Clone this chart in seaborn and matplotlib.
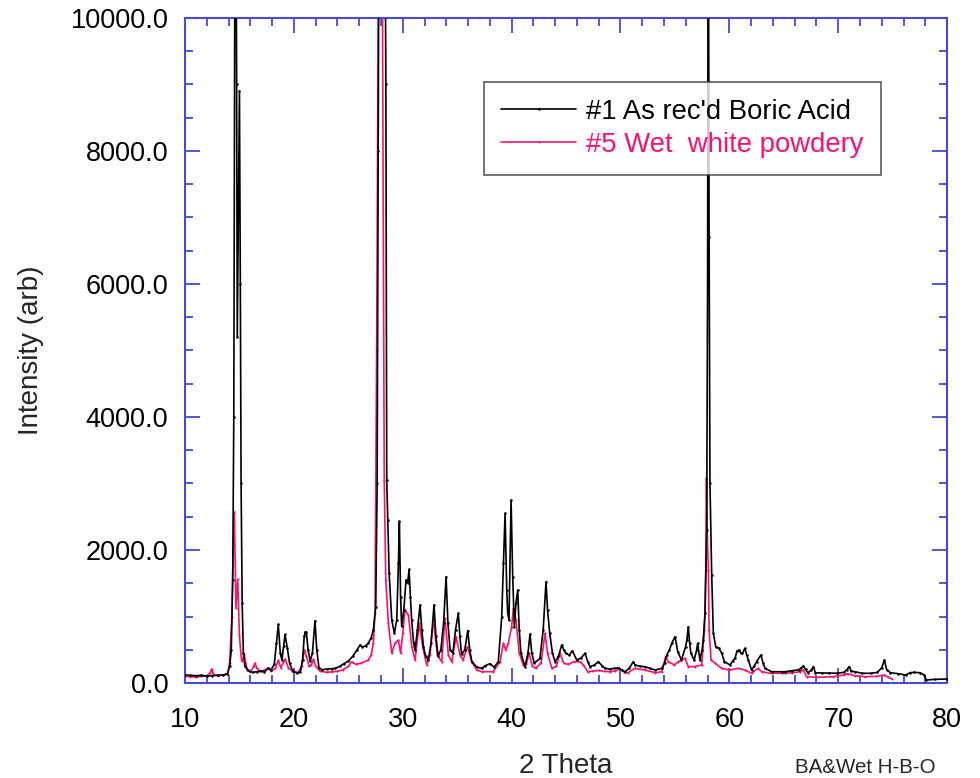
import numpy as np
import pandas as pd
import matplotlib
matplotlib.use("Agg")
import matplotlib.pyplot as plt
import seaborn as sns

# ---- data (2-theta, intensity) ----
ba_theta = [10.0, 10.5, 11.0, 11.5, 12.0, 12.5, 13.0, 13.5, 13.9, 14.1, 14.25, 14.38, 14.48, 14.58, 14.66,
            14.74, 14.8, 14.9, 15.0, 15.08, 15.15, 15.25, 15.36, 15.5, 15.8, 16.2, 16.6, 17.0, 17.3, 17.65,
            17.9, 18.2, 18.4, 18.57, 18.75, 18.9, 19.05, 19.19, 19.4, 19.6, 19.9, 20.3, 20.6, 20.8, 20.95,
            21.05, 21.15, 21.3, 21.5, 21.7, 21.94, 22.1, 22.3, 22.6, 23.0, 23.5, 23.8, 24.2, 24.6, 25.0,
            25.4, 25.8, 26.08, 26.3, 26.6, 26.84, 27.1, 27.3, 27.52, 27.65, 27.75, 27.85, 28.0, 28.15, 28.3,
            28.45, 28.53, 28.62, 28.75, 28.99, 29.23, 29.45, 29.6, 29.69, 29.8, 29.9, 30.1, 30.3, 30.45,
            30.58, 30.7, 30.82, 31.0, 31.13, 31.35, 31.59, 31.75, 31.9, 32.1, 32.35, 32.6, 32.87, 33.05,
            33.25, 33.5, 33.75, 33.98, 34.15, 34.35, 34.6, 34.85, 35.1, 35.25, 35.4, 35.7, 35.97, 36.15,
            36.35, 36.8, 37.26, 37.56, 38.0, 38.4, 38.78, 39.09, 39.25, 39.4, 39.55, 39.64, 39.76, 39.95,
            40.1, 40.25, 40.4, 40.56, 40.7, 40.86, 41.23, 41.5, 41.69, 41.85, 42.08, 42.6, 42.9, 43.16,
            43.3, 43.5, 43.75, 43.99, 44.3, 44.6, 44.8, 44.97, 45.3, 45.58, 45.98, 46.4, 46.74, 47.0,
            47.2, 47.6, 47.97, 48.3, 48.58, 49.0, 49.4, 49.8, 50.1, 50.4, 50.8, 51.18, 51.34, 51.8,
            52.26, 52.7, 53.18, 53.8, 54.05, 54.25, 54.5, 54.71, 55.01, 55.26, 55.6, 55.98, 56.1, 56.23,
            56.35, 56.47, 56.77, 57.0, 57.09, 57.3, 57.5, 57.6, 57.77, 57.92, 58.0, 58.07, 58.14, 58.22,
            58.38, 58.53, 58.75, 59.05, 59.3, 59.55, 60.07, 60.3, 60.52, 60.7, 60.89, 61.05, 61.2, 61.43,
            61.6, 61.74, 62.04, 62.3, 62.5, 62.9, 63.1, 63.27, 63.88, 64.8, 65.12, 65.8, 66.4, 66.6,
            66.8, 67.0, 67.2, 67.5, 67.72, 67.9, 68.5, 69.2, 69.92, 70.5, 70.8, 71.0, 71.2, 71.5,
            72.2, 73.0, 73.6, 74.0, 74.24, 74.45, 74.8, 75.5, 76.2, 76.6, 77.0, 77.5, 77.9, 78.1,
            78.9, 80.0]
ba_int = [120, 115, 110, 115, 105, 110, 115, 120, 140, 250, 500, 1550, 4000, 11000, 13000,
          9000, 5200, 7000, 8900, 6000, 3000, 1200, 450, 250, 190, 160, 170, 180, 170, 220,
          200, 280, 600, 880, 450, 346, 550, 730, 520, 300, 180, 150, 170, 350, 700,
          770, 760, 500, 330, 450, 937, 500, 230, 200, 210, 215, 220, 250, 290, 330,
          400, 500, 570, 540, 560, 600, 680, 800, 1150, 3000, 8000, 14000, 17000, 17500, 14000,
          9000, 3050, 2450, 1650, 947, 747, 950, 1800, 2430, 1300, 850, 1100, 1550, 1500,
          1710, 1300, 947, 600, 496, 800, 1173, 800, 546, 400, 346, 600, 1173, 700,
          400, 500, 900, 1600, 900, 500, 450, 800, 1048, 700, 430, 500, 788, 500,
          320, 240, 220, 260, 290, 240, 321, 997, 1800, 2552, 1400, 1048, 947, 2752,
          1600, 847, 1200, 1399, 800, 446, 246, 450, 737, 450, 296, 371, 800, 1524,
          1100, 747, 450, 321, 400, 571, 500, 446, 420, 486, 346, 380, 446, 320,
          246, 270, 321, 260, 220, 210, 220, 230, 200, 170, 220, 321, 271, 250,
          246, 220, 196, 220, 300, 421, 500, 597, 697, 471, 346, 546, 650, 847,
          600, 446, 346, 500, 597, 346, 500, 646, 1048, 2300, 6000, 13000, 6700, 3000,
          1624, 747, 546, 521, 446, 321, 271, 330, 371, 480, 496, 450, 446, 521,
          420, 346, 196, 260, 321, 421, 300, 220, 170, 170, 170, 185, 200, 230,
          256, 206, 155, 190, 246, 155, 150, 150, 146, 160, 200, 246, 180, 170,
          146, 146, 160, 230, 346, 200, 155, 140, 120, 155, 160, 155, 120, 45,
          55, 60]

wet_theta = [10.0, 10.5, 11.0, 11.5, 12.0, 12.3, 12.45, 12.6, 13.0, 13.5, 13.9, 14.1, 14.3, 14.45, 14.53,
             14.68, 14.84, 15.0, 15.2, 15.45, 15.7, 16.0, 16.3, 16.43, 16.6, 16.9, 17.3, 17.65, 17.9,
             18.3, 18.57, 18.8, 19.19, 19.5, 19.9, 20.4, 20.7, 20.97, 21.15, 21.4, 21.6, 21.8, 22.0,
             22.4, 23.0, 23.5, 24.0, 24.5, 25.0, 25.3, 25.7, 26.2, 26.84, 27.1, 27.3, 27.45, 27.6,
             27.76, 27.95, 28.13, 28.3, 28.44, 28.68, 28.99, 29.3, 29.6, 29.8, 30.0, 30.21, 30.52, 30.83,
             31.13, 31.52, 31.83, 32.2, 32.5, 32.81, 33.18, 33.58, 33.88, 34.19, 34.5, 34.9, 35.25, 35.55,
             35.94, 36.33, 36.79, 37.3, 38.3, 38.94, 39.24, 39.45, 39.7, 40.0, 40.16, 40.4, 40.7, 41.07,
             41.35, 41.6, 41.9, 42.2, 42.7, 43.07, 43.3, 43.7, 44.1, 44.44, 44.8, 45.2, 45.7, 46.3,
             46.6, 47.0, 47.5, 48.0, 48.5, 49.0, 49.5, 49.9, 50.3, 50.7, 51.3, 52.26, 53.18, 53.8,
             54.15, 54.4, 54.95, 55.3, 55.92, 56.23, 56.8, 57.46, 57.71, 57.83, 57.9, 57.97, 58.08, 58.14,
             58.32, 58.69, 59.3, 60.0, 60.83, 61.4, 62.04, 62.62, 63.0, 63.8, 64.8, 65.12, 65.8, 66.5,
             66.8, 67.1, 68.0, 69.5, 70.5, 70.9, 71.5, 72.5, 73.5, 74.24, 74.6, 74.92]
wet_int = [100, 95, 90, 100, 110, 150, 210, 130, 110, 120, 140, 300, 1000, 2200, 2577,
           1128, 1560, 700, 330, 420, 200, 160, 250, 300, 220, 180, 190, 230, 180,
           220, 340, 230, 360, 230, 170, 160, 250, 500, 400, 250, 270, 360, 250,
           180, 160, 170, 175, 200, 250, 320, 280, 300, 346, 420, 597, 1050, 5000,
           10500, 15000, 10500, 3050, 1550, 897, 446, 600, 646, 446, 750, 1098, 1023, 546,
           346, 897, 546, 271, 421, 947, 421, 321, 972, 421, 321, 697, 421, 346,
           546, 321, 196, 170, 170, 321, 597, 500, 600, 847, 1123, 950, 450, 271,
           280, 446, 260, 220, 300, 747, 446, 220, 250, 446, 296, 280, 321, 321,
           270, 170, 180, 190, 175, 170, 180, 220, 170, 155, 220, 196, 155, 170,
           396, 321, 271, 321, 371, 246, 246, 271, 797, 1700, 3080, 2200, 1700, 797,
           346, 296, 220, 196, 220, 196, 146, 220, 170, 146, 146, 146, 155, 170,
           196, 95, 85, 95, 120, 140, 110, 95, 100, 120, 90, 60]

series_names = ["#1 As rec'd Boric Acid", "#5 Wet  white powdery"]
x_ticks = [10, 20, 30, 40, 50, 60, 70, 80]
y_ticks = [0, 2000, 4000, 6000, 8000, 10000]

BLACK = "#000000"
PINK = "#ff1070"
FRAME = "#4848dc"

sns.set_style("white")
plt.rcParams["font.family"] = ["Liberation Sans", "DejaVu Sans"]

fig = plt.figure(figsize=(9.8, 7.78), dpi=100)
ax = fig.add_axes([0.1888, 0.1221, 0.7776, 0.8548])

df_ba = pd.DataFrame({"theta": ba_theta, "intensity": ba_int})
df_wet = pd.DataFrame({"theta": wet_theta, "intensity": wet_int})

sns.lineplot(data=df_ba, x="theta", y="intensity", ax=ax, color=BLACK, lw=1.2,
             estimator=None, sort=False, marker="o", markersize=1.8, markeredgewidth=0,
             label=series_names[0], zorder=3)
sns.lineplot(data=df_wet, x="theta", y="intensity", ax=ax, color=PINK, lw=1.2,
             estimator=None, sort=False, marker="o", markersize=1.5, markeredgewidth=0,
             label=series_names[1], zorder=2)

ax.set_xlim(10, 80)
ax.set_ylim(0, 10000)
ax.set_xticks(x_ticks)
ax.set_xticklabels([str(v) for v in x_ticks])
ax.set_yticks(y_ticks)
ax.set_yticklabels([f"{v:.1f}" for v in y_ticks])
ax.set_xticks(np.arange(10, 81, 2), minor=True)
ax.set_yticks(np.arange(0, 10001, 500), minor=True)

for s in ax.spines.values():
    s.set_color(FRAME)
    s.set_linewidth(1.5)
    s.set_visible(True)

ax.tick_params(which="both", direction="in", top=True, right=True, bottom=True, left=True,
               color=FRAME, labelsize=19.5, labelcolor="black")
ax.tick_params(which="major", length=11, width=1.3)
ax.tick_params(which="minor", length=6, width=1.3)
ax.tick_params(axis="x", which="major", pad=17)
ax.tick_params(axis="y", which="major", pad=12)

ax.set_xlabel("2 Theta", fontsize=20, labelpad=15)
ax.set_ylabel("Intensity (arb)", fontsize=20, labelpad=19)

leg = ax.legend(loc="upper left", bbox_to_anchor=(0.392, 0.904), borderaxespad=0,
                fontsize=19.8, frameon=True, fancybox=False, handlelength=2.75,
                handletextpad=0.35, labelspacing=0.25, borderpad=0.62)
leg.get_frame().set_edgecolor("#333333")
leg.get_frame().set_linewidth(1.2)
for txt, c in zip(leg.get_texts(), [BLACK, PINK]):
    txt.set_color(c)

fig.text(0.811, 0.0129, "BA&Wet H-B-O", fontsize=14.8, ha="left", va="center")

fig.savefig("out.png", dpi=100)
